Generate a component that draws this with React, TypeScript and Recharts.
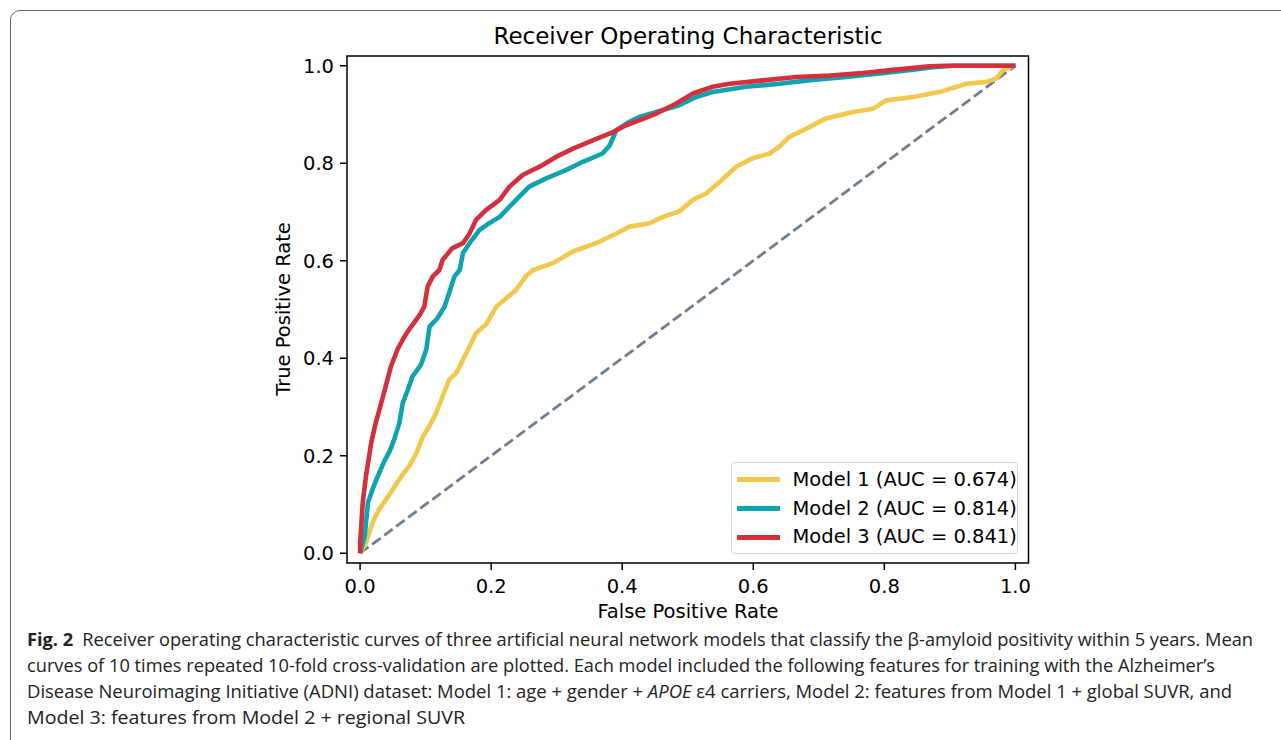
import React from 'react';
import { LineChart, Line, XAxis, YAxis, ReferenceArea, Legend } from 'recharts';

// ---------- data ----------
const axisTicks = [0, 0.2, 0.4, 0.6, 0.8, 1.0];
const axisTickLabels = ['0.0', '0.2', '0.4', '0.6', '0.8', '1.0'];

const model1Fpr = [0, 0.009, 0.019, 0.029, 0.04, 0.05, 0.063, 0.075, 0.085, 0.096, 0.106, 0.116, 0.126, 0.136, 0.147, 0.157, 0.167, 0.177, 0.192, 0.208, 0.223, 0.238, 0.253, 0.264, 0.294, 0.325, 0.36, 0.391, 0.411, 0.442, 0.462, 0.487, 0.508, 0.528, 0.549, 0.574, 0.599, 0.625, 0.64, 0.655, 0.681, 0.711, 0.752, 0.783, 0.803, 0.844, 0.884, 0.925, 0.956, 0.971, 0.981, 0.996, 1.0];
const model1Tpr = [0, 0.022, 0.063, 0.09, 0.111, 0.131, 0.158, 0.179, 0.203, 0.24, 0.261, 0.288, 0.322, 0.356, 0.37, 0.397, 0.424, 0.452, 0.469, 0.506, 0.523, 0.54, 0.568, 0.581, 0.595, 0.619, 0.636, 0.656, 0.67, 0.677, 0.69, 0.701, 0.725, 0.738, 0.762, 0.793, 0.81, 0.82, 0.834, 0.854, 0.871, 0.892, 0.905, 0.912, 0.929, 0.936, 0.946, 0.963, 0.967, 0.974, 0.991, 1.0, 1.0];

const model2Fpr = [0, 0.003, 0.007, 0.012, 0.019, 0.027, 0.037, 0.045, 0.052, 0.06, 0.065, 0.073, 0.08, 0.093, 0.101, 0.106, 0.118, 0.129, 0.139, 0.144, 0.152, 0.157, 0.167, 0.182, 0.197, 0.213, 0.223, 0.238, 0.258, 0.284, 0.314, 0.34, 0.37, 0.381, 0.391, 0.411, 0.426, 0.452, 0.487, 0.513, 0.538, 0.589, 0.64, 0.691, 0.742, 0.793, 0.844, 0.874, 0.905, 1.0];
const model2Tpr = [0, 0.015, 0.035, 0.104, 0.131, 0.158, 0.189, 0.209, 0.233, 0.268, 0.308, 0.336, 0.363, 0.387, 0.418, 0.465, 0.482, 0.506, 0.547, 0.568, 0.581, 0.616, 0.636, 0.663, 0.677, 0.69, 0.704, 0.725, 0.752, 0.769, 0.786, 0.803, 0.82, 0.837, 0.868, 0.885, 0.895, 0.905, 0.919, 0.936, 0.946, 0.957, 0.963, 0.971, 0.977, 0.984, 0.992, 0.997, 1.0, 1.0];

const model3Fpr = [0, 0, 0.004, 0.009, 0.017, 0.024, 0.035, 0.047, 0.057, 0.068, 0.078, 0.091, 0.098, 0.103, 0.111, 0.121, 0.126, 0.141, 0.157, 0.167, 0.177, 0.192, 0.213, 0.228, 0.248, 0.274, 0.299, 0.325, 0.355, 0.386, 0.406, 0.426, 0.452, 0.477, 0.487, 0.508, 0.538, 0.564, 0.615, 0.666, 0.717, 0.767, 0.818, 0.869, 0.895, 1.0];
const model3Tpr = [0, 0.02, 0.104, 0.158, 0.227, 0.268, 0.322, 0.383, 0.418, 0.445, 0.465, 0.489, 0.506, 0.547, 0.568, 0.581, 0.602, 0.626, 0.636, 0.656, 0.684, 0.704, 0.725, 0.752, 0.776, 0.793, 0.813, 0.83, 0.847, 0.864, 0.878, 0.888, 0.902, 0.919, 0.926, 0.943, 0.957, 0.963, 0.97, 0.977, 0.98, 0.985, 0.992, 0.999, 1.0, 1.0];

const chanceFpr = [0, 1];
const chanceTpr = [0, 1];

const seriesNames = ['Model 1 (AUC = 0.674)', 'Model 2 (AUC = 0.814)', 'Model 3 (AUC = 0.841)'];
const seriesColors = ['#F0C84E', '#0FA3B1', '#D32F3C'];
const chanceColor = '#6F7F8F';

const titleText = 'Receiver Operating Characteristic';
const xLabelText = 'False Positive Rate';
const yLabelText = 'True Positive Rate';

const captionBold = 'Fig. 2';
const captionLine1 = 'Receiver operating characteristic curves of three artificial neural network models that classify the β-amyloid positivity within 5 years. Mean';
const captionLine2 = 'curves of 10 times repeated 10-fold cross-validation are plotted. Each model included the following features for training with the Alzheimer’s';
const captionLine3a = 'Disease Neuroimaging Initiative (ADNI) dataset: Model 1: age + gender + ';
const captionLine3b = 'APOE';
const captionLine3c = ' ε4 carriers, Model 2: features from Model 1 + global SUVR, and';
const captionLine4 = 'Model 3: features from Model 2 + regional SUVR';

// ---------- helpers ----------
const toPoints = (xs: number[], ys: number[]) => xs.map((x, i) => ({ x, y: ys[i] }));
const model1Data = toPoints(model1Fpr, model1Tpr);
const model2Data = toPoints(model2Fpr, model2Tpr);
const model3Data = toPoints(model3Fpr, model3Tpr);
const chanceData = toPoints(chanceFpr, chanceTpr);
const seriesData = [model1Data, model2Data, model3Data];

const FONT = 'DejaVu Sans';
const TICK_FS = 19.5;
const DOMAIN: [number, number] = [-0.02, 1.02];

const fmt = (v: number) => {
  const i = axisTicks.findIndex((t) => Math.abs(t - v) < 1e-9);
  return i >= 0 ? axisTickLabels[i] : String(v);
};

const LegendBox = () => (
  <div
    style={{
      width: 287,
      height: 92,
      border: '1px solid #d2d2d2',
      borderRadius: 4,
      background: 'rgba(255,255,255,0.8)',
      boxSizing: 'border-box',
      position: 'relative',
      fontFamily: FONT,
      fontSize: TICK_FS,
      color: '#000',
    }}
  >
    {seriesNames.map((name, i) => (
      <div key={name} style={{ position: 'absolute', left: 0, top: 2.6 + i * 28.9, height: 28, width: 286 }}>
        <div style={{ position: 'absolute', left: 5, top: 11.5, width: 43, height: 5, background: seriesColors[i] }} />
        <div style={{ position: 'absolute', left: 60.5, top: 2, whiteSpace: 'nowrap', lineHeight: '24px' }}>{name}</div>
      </div>
    ))}
  </div>
);

export default function App() {
  return (
    <div style={{ position: 'absolute', left: 0, top: 0, width: 1281, height: 740, overflow: 'hidden', background: '#fff' }}>
      <div
        style={{
          position: 'absolute',
          left: 10,
          top: 10,
          width: 1320,
          height: 800,
          border: '1.5px solid #6a6a6a',
          borderRadius: 10,
          boxSizing: 'border-box',
        }}
      />
      <div style={{ position: 'absolute', left: 0, top: 0 }}>
        <LineChart width={1281} height={740} margin={{ top: 56, right: 252.5, bottom: 117, left: 287 }}>
          <XAxis
            type="number"
            dataKey="x"
            domain={DOMAIN}
            allowDataOverflow
            ticks={axisTicks}
            interval={0}
            tickFormatter={fmt}
            axisLine={false}
            tickLine={{ stroke: '#000', strokeWidth: 1.5 }}
            tickSize={7}
            tickMargin={9}
            height={60}
            tick={{ fontFamily: FONT, fontSize: TICK_FS, fill: '#000' }}
          />
          <YAxis
            type="number"
            dataKey="y"
            domain={DOMAIN}
            allowDataOverflow
            ticks={axisTicks}
            interval={0}
            tickFormatter={fmt}
            axisLine={false}
            tickLine={{ stroke: '#000', strokeWidth: 1.5 }}
            tickSize={7}
            tickMargin={6}
            width={60}
            tick={{ fontFamily: FONT, fontSize: TICK_FS, fill: '#000' }}
          />
          <Line
            data={chanceData}
            dataKey="y"
            type="linear"
            stroke={chanceColor}
            strokeWidth={2.8}
            strokeDasharray="10.5 4.5"
            dot={false}
            activeDot={false}
            legendType="none"
            isAnimationActive={false}
          />
          {seriesData.map((d, i) => (
            <Line
              key={seriesNames[i]}
              name={seriesNames[i]}
              data={d}
              dataKey="y"
              type="linear"
              stroke={seriesColors[i]}
              strokeWidth={4.6}
              strokeLinejoin="round"
              dot={false}
              activeDot={false}
              isAnimationActive={false}
            />
          ))}
          <ReferenceArea
            x1={DOMAIN[0]}
            x2={DOMAIN[1]}
            y1={DOMAIN[0]}
            y2={DOMAIN[1]}
            fill="none"
            fillOpacity={0}
            stroke="#000"
            strokeWidth={1.5}
            ifOverflow="visible"
          />
          <Legend
            layout="vertical"
            align="center"
            verticalAlign="middle"
            wrapperStyle={{ left: 731, top: 462, width: 287, height: 92 }}
            content={() => <LegendBox />}
          />
        </LineChart>
      </div>
      <svg width={1281} height={740} style={{ position: 'absolute', left: 0, top: 0, pointerEvents: 'none' }}>
        <text x={688} y={43.5} textAnchor="middle" fontFamily={FONT} fontSize={23} fill="#000">
          {titleText}
        </text>
        <text x={688} y={617.5} textAnchor="middle" fontFamily={FONT} fontSize={TICK_FS} fill="#000">
          {xLabelText}
        </text>
        <text
          x={0}
          y={0}
          transform="translate(289.5,309) rotate(-90)"
          textAnchor="middle"
          fontFamily={FONT}
          fontSize={TICK_FS}
          fill="#000"
        >
          {yLabelText}
        </text>
        <g fontFamily="'Open Sans'" fontSize={18} fill="#222">
          <text x={27} y={646} textLength={1226} lengthAdjust="spacingAndGlyphs">
            <tspan fontWeight="bold">{captionBold}</tspan>
            <tspan dx={9}>{captionLine1}</tspan>
          </text>
          <text x={27} y={672} textLength={1188} lengthAdjust="spacingAndGlyphs">
            {captionLine2}
          </text>
          <text x={27} y={698} textLength={1205} lengthAdjust="spacingAndGlyphs">
            <tspan>{captionLine3a}</tspan>
            <tspan fontStyle="italic">{captionLine3b}</tspan>
            <tspan>{captionLine3c}</tspan>
          </text>
          <text x={27} y={724} textLength={438} lengthAdjust="spacingAndGlyphs">
            {captionLine4}
          </text>
        </g>
      </svg>
    </div>
  );
}
